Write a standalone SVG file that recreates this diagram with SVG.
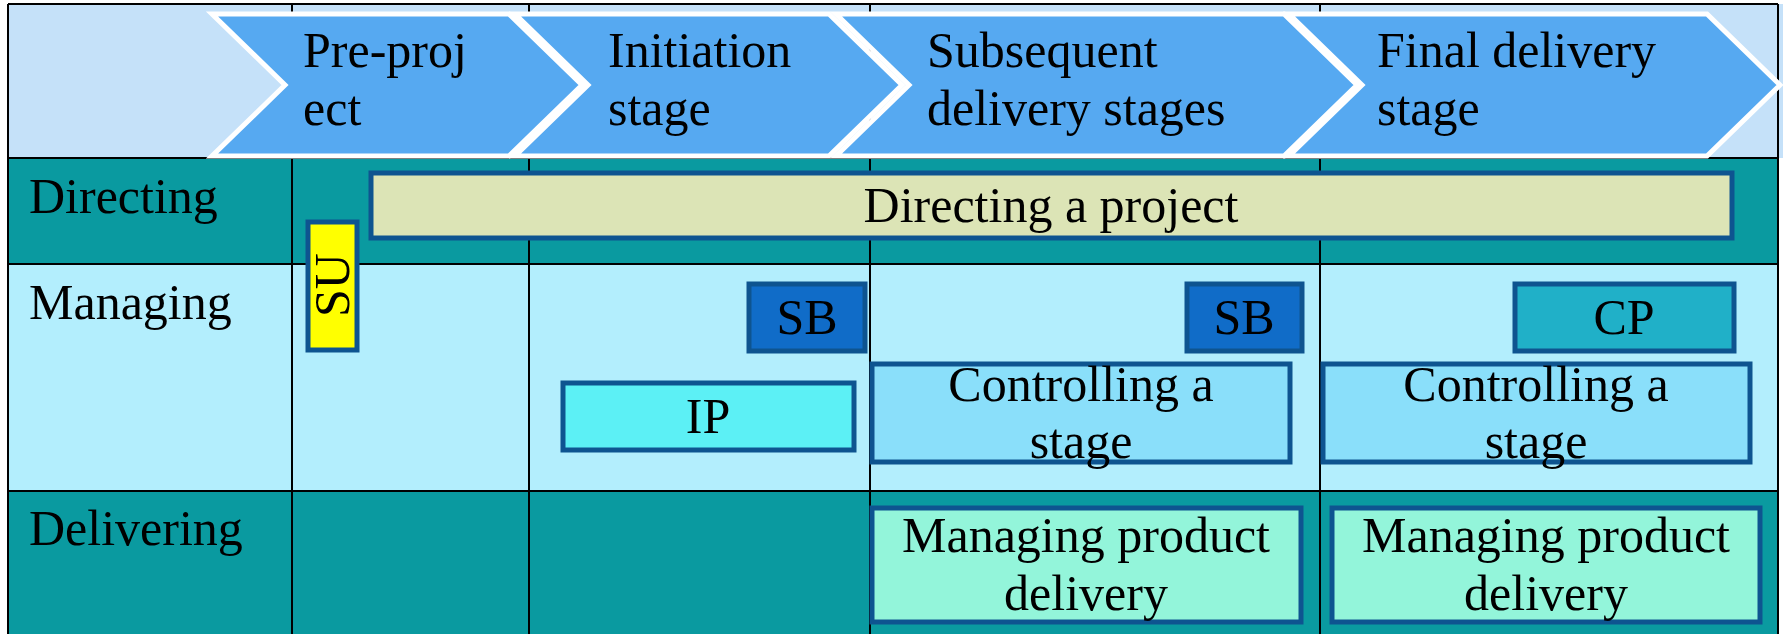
<svg xmlns="http://www.w3.org/2000/svg" width="1783" height="634" viewBox="0 0 1783 634">
  <style>
    text { font-family: "Liberation Serif", "Times New Roman", serif; font-size: 50px; fill: #000; }
    .mid { text-anchor: middle; }
    .grid { stroke: #000; stroke-width: 2; fill: none; }
    .chev { fill: #56A9F1; stroke: #FFFFFF; stroke-width: 5; stroke-linejoin: miter; }
    .box { stroke: #0E5490; stroke-width: 5; }
  </style>

  <!-- row bands -->
  <g id="bands">
    <rect x="0" y="0" width="1783" height="634" fill="#FFFFFF"/>
    <rect x="8" y="4" width="1775" height="154" fill="#C5E1F9"/>
    <rect x="8" y="158" width="1770" height="106" fill="#0A9AA0"/>
    <rect x="8" y="264" width="1770" height="227" fill="#B3EEFD"/>
    <rect x="8" y="491" width="1770" height="143" fill="#0A9AA0"/>
  </g>

  <!-- table grid -->
  <g id="grid" class="grid">
    <line x1="8" y1="4" x2="1778" y2="4"/>
    <line x1="8" y1="158" x2="1778" y2="158"/>
    <line x1="8" y1="264" x2="1778" y2="264"/>
    <line x1="8" y1="491" x2="1778" y2="491"/>
    <line x1="8" y1="4" x2="8" y2="634"/>
    <line x1="292" y1="4" x2="292" y2="634"/>
    <line x1="529" y1="4" x2="529" y2="634"/>
    <line x1="870" y1="4" x2="870" y2="634"/>
    <line x1="1320" y1="4" x2="1320" y2="634"/>
    <line x1="1778" y1="4" x2="1778" y2="634"/>
  </g>

  <!-- stage chevrons -->
  <g id="stage-preproject">
    <polygon class="chev" points="212,14 509,14 582,85 509,156 212,156 285,85"/>
    <text x="303" y="67">Pre-proj</text>
    <text x="303" y="125">ect</text>
  </g>
  <g id="stage-initiation">
    <polygon class="chev" points="515,14 829,14 902,85 829,156 515,156 588,85"/>
    <text x="608" y="67">Initiation</text>
    <text x="608" y="125">stage</text>
  </g>
  <g id="stage-subsequent">
    <polygon class="chev" points="836,14 1284,14 1357,85 1284,156 836,156 909,85"/>
    <text x="927" y="67">Subsequent</text>
    <text x="927" y="125">delivery stages</text>
  </g>
  <g id="stage-final">
    <polygon class="chev" points="1289,14 1707,14 1780,85 1707,156 1289,156 1362,85"/>
    <text x="1377" y="67">Final delivery</text>
    <text x="1377" y="125">stage</text>
  </g>

  <!-- row labels -->
  <g id="label-directing"><text x="29" y="213">Directing</text></g>
  <g id="label-managing"><text x="29" y="319">Managing</text></g>
  <g id="label-delivering"><text x="29" y="545">Delivering</text></g>

  <!-- process boxes -->
  <g id="directing-a-project">
    <rect class="box" x="371" y="173" width="1361" height="65" fill="#DCE4B6"/>
    <text class="mid" x="1051" y="222">Directing a project</text>
  </g>
  <g id="starting-up">
    <rect class="box" x="308" y="222" width="49" height="128" fill="#FFFF00"/>
    <text class="mid" transform="translate(349,285) rotate(-90)">SU</text>
  </g>
  <g id="stage-boundary-1">
    <rect class="box" x="749" y="284" width="116" height="67" fill="#106CC8"/>
    <text class="mid" x="807" y="334">SB</text>
  </g>
  <g id="initiating">
    <rect class="box" x="563" y="383" width="291" height="67" fill="#5CF0F5"/>
    <text class="mid" x="708" y="433">IP</text>
  </g>
  <g id="stage-boundary-2">
    <rect class="box" x="1187" y="284" width="115" height="67" fill="#106CC8"/>
    <text class="mid" x="1244" y="334">SB</text>
  </g>
  <g id="closing">
    <rect class="box" x="1515" y="284" width="219" height="67" fill="#20B0C8"/>
    <text class="mid" x="1624" y="334">CP</text>
  </g>
  <g id="controlling-stage-1">
    <rect class="box" x="872" y="364" width="418" height="98" fill="#8ADFFA"/>
    <text class="mid" x="1081" y="401">Controlling a</text>
    <text class="mid" x="1081" y="458">stage</text>
  </g>
  <g id="controlling-stage-2">
    <rect class="box" x="1323" y="364" width="427" height="98" fill="#8ADFFA"/>
    <text class="mid" x="1536" y="401">Controlling a</text>
    <text class="mid" x="1536" y="458">stage</text>
  </g>
  <g id="product-delivery-1">
    <rect class="box" x="872" y="508" width="429" height="114" fill="#93F5DA"/>
    <text class="mid" x="1086" y="552">Managing product</text>
    <text class="mid" x="1086" y="610">delivery</text>
  </g>
  <g id="product-delivery-2">
    <rect class="box" x="1332" y="508" width="428" height="114" fill="#93F5DA"/>
    <text class="mid" x="1546" y="552">Managing product</text>
    <text class="mid" x="1546" y="610">delivery</text>
  </g>
</svg>
